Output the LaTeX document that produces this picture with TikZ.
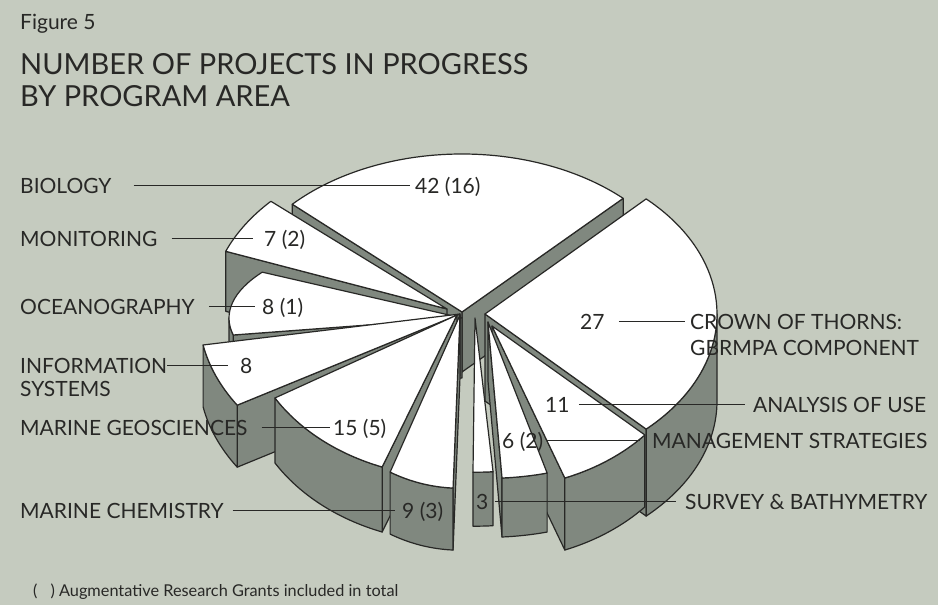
\documentclass[tikz,border=0pt]{standalone}
\usepackage{fontspec}
\setmainfont{Lato}
\usepackage{tikz}
\usetikzlibrary{calc}
\definecolor{chartbg}{RGB}{197,203,191}
\definecolor{chartside}{RGB}{128,136,127}
\definecolor{chartink}{RGB}{40,40,38}
% one exploded slice: apex, x radius, y radius, from, to, depth
\newcommand{\pieslice}[6]{%
  \coordinate (sA) at (#1);
  \coordinate (sP) at ($(sA)+(#4:#2 and #3)$);
  \coordinate (sQ) at ($(sA)+(#5:#2 and #3)$);
  \pgfmathsetmacro\arcfrom{max(#4,-180)}
  \pgfmathsetmacro\arcto{min(#5,0)}
  \pgfmathsetmacro\startcos{cos(#4)}
  \pgfmathsetmacro\endcos{cos(#5)}
  \ifdim\startcos pt>0pt
    \filldraw[side] (sA) -- (sP) -- ++(0,-#6) -- ($(sA)+(0,-#6)$) -- cycle;
  \fi
  \ifdim\endcos pt<0pt
    \filldraw[side] (sA) -- (sQ) -- ++(0,-#6) -- ($(sA)+(0,-#6)$) -- cycle;
  \fi
  \ifdim\arcfrom pt<\arcto pt
    \filldraw[side] ($(sA)+(\arcfrom:#2 and #3)$)
      arc[start angle=\arcfrom,end angle=\arcto,x radius=#2,y radius=#3] -- ++(0,-#6)
      arc[start angle=\arcto,end angle=\arcfrom,x radius=#2,y radius=#3] -- cycle;
  \fi
  \filldraw[top] (sA) -- (sP) arc[start angle=#4,end angle=#5,x radius=#2,y radius=#3] -- cycle;
}

\begin{document}
\begin{tikzpicture}[x=1pt,y=1pt,
    side/.style={fill=chartside,draw=chartink,line width=1.2pt,line join=round},
    top/.style={fill=white,draw=chartink,line width=1.2pt,line join=round},
    lab/.style={inner sep=0pt,text=chartink,font=\fontsize{21}{23}\selectfont,
      text height=15pt,text depth=0pt,anchor=base west},
    head/.style={inner sep=0pt,text=chartink,anchor=base west},
    leader/.style={draw=chartink,line width=1.8pt}]
    % paper
    \fill[chartbg] (0,0) rectangle (938,-605);
    \useasboundingbox (0,0) rectangle (938,-605);
    % heading
    \node[head,font=\fontsize{21}{24}\selectfont] (fig) at (20,-30) {Figure 5};
    \node[head,font=\fontsize{29}{32}\selectfont] (head1) at (20,-74) {NUMBER OF PROJECTS IN PROGRESS};
    \node[head,font=\fontsize{29}{32}\selectfont] (head2) at (20,-106) {BY PROGRAM AREA};
    % slices, back to front
    \pieslice{462,-312}{232}{158}{46}{137}{60}         % biology
    \pieslice{447,-309}{237}{161}{138}{159}{60}        % monitoring
    \pieslice{485,-314}{232}{160}{-46}{46}{87}         % crown of thorns
    \pieslice{462,-318}{233}{89}{-211}{-169}{60}       % oceanography
    \pieslice{460,-314}{261}{175}{-169.8}{-148.6}{62}  % information systems
    \pieslice{492,-326}{206}{162.5}{-69.3}{-42.1}{72}  % analysis of use
    \pieslice{457,-315}{211.7}{162.5}{-149.3}{-110.7}{65} % marine geosciences
    \pieslice{488,-322}{230}{156.3}{-86.5}{-75.1}{59}  % management strategies
    \pieslice{460,-315}{166}{173.2}{-114.9}{-92.4}{62} % marine chemistry
    \pieslice{475,-318}{230}{154.2}{-90.5}{-85.5}{54}  % survey
    % left labels
    \node[lab] (bio) at (20,-193) {BIOLOGY};
    \node[lab] (n42) at (415,-193) {42 (16)};
    \draw[leader,shorten <=22pt,shorten >=5pt] (bio.east) -- (n42.west);
    \node[lab] (mon) at (20,-246) {MONITORING};
    \node[lab] (n7) at (264,-246) {7 (2)};
    \draw[leader,shorten <=14pt,shorten >=11pt] (mon.east) -- (n7.west);
    \node[lab] (oce) at (20,-314) {OCEANOGRAPHY};
    \node[lab] (n8a) at (262,-314) {8 (1)};
    \draw[leader,shorten <=14pt,shorten >=7pt] (oce.east) -- (n8a.west);
    \node[lab] (inf) at (20,-373) {INFORMATION};
    \node[lab] (inf2) at (20,-396) {SYSTEMS};
    \node[lab] (n8b) at (240,-373) {8};
    \draw[leader,shorten >=12pt] (inf.east) -- (n8b.west);
    \node[lab] (geo) at (20,-435) {MARINE GEOSCIENCES};
    \node[lab] (n15) at (333,-435) {15 (5)};
    \draw[leader,shorten <=14pt,shorten >=3pt] (geo.east) -- (n15.west);
    \node[lab] (che) at (20,-518) {MARINE CHEMISTRY};
    \node[lab] (n9) at (402,-518) {9 (3)};
    \draw[leader,shorten <=9pt,shorten >=7pt] (che.east) -- (n9.west);
    % right labels
    \node[lab] (n27) at (580,-329) {27};
    \node[lab] (cro) at (690,-329) {CROWN OF THORNS:};
    \node[lab] (cro2) at (690,-355) {GBRMPA COMPONENT};
    \draw[leader,shorten <=14pt,shorten >=5pt] (n27.east) -- (cro.west);
    \node[lab] (n11) at (545,-412) {11};
    \node[lab] (ana) at (753,-412) {ANALYSIS OF USE};
    \draw[leader,shorten <=9pt,shorten >=8pt] (n11.east) -- (ana.west);
    \node[lab] (n6) at (502,-448) {6 (2)};
    \node[lab] (man) at (652,-448) {MANAGEMENT STRATEGIES};
    \draw[leader,shorten <=4pt,shorten >=12pt] (n6.east) -- (man.west);
    \node[lab] (n3) at (476,-509) {3};
    \node[lab] (sur) at (685,-509) {SURVEY \& BATHYMETRY};
    \draw[leader,shorten <=6pt,shorten >=9pt] (n3.east) -- (sur.west);
    % footnote
    \node[head,font=\fontsize{16.3}{18}\selectfont] (note) at (33,-596)
      {(\hspace{13pt}) Augmentative Research Grants included in total};
\end{tikzpicture}
\end{document}
